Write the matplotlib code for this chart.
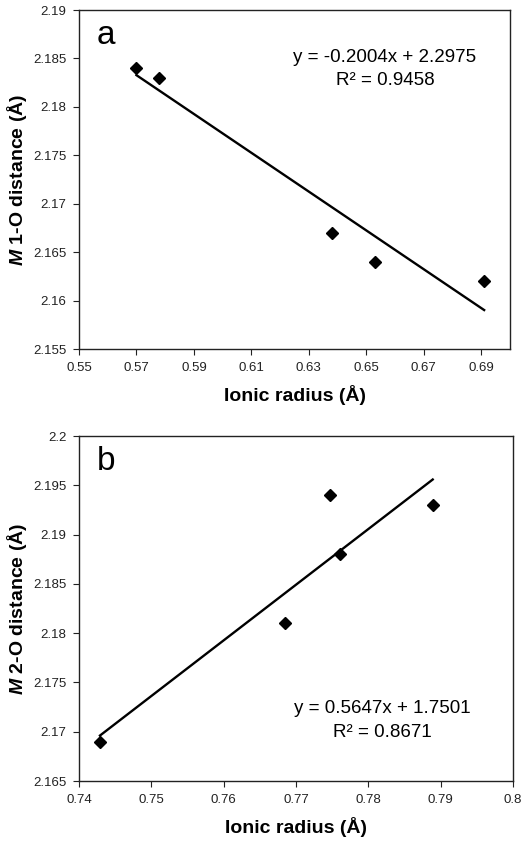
import numpy as np
import matplotlib
matplotlib.use("Agg")
import matplotlib.pyplot as plt

plt.rcParams['font.family'] = ['Liberation Sans', 'DejaVu Sans']
plt.rcParams['mathtext.fontset'] = 'custom'
plt.rcParams['mathtext.rm'] = 'Liberation Sans:bold'
plt.rcParams['mathtext.it'] = 'Liberation Sans:italic:bold'

# panel a: M1 site
radius_a = [0.570, 0.578, 0.638, 0.653, 0.691]
dist_a = [2.184, 2.183, 2.167, 2.164, 2.162]
slope_a, icept_a, r2_a = -0.2004, 2.2975, 0.9458
xticks_a = [0.55, 0.57, 0.59, 0.61, 0.63, 0.65, 0.67, 0.69]
xlabels_a = ['0.55', '0.57', '0.59', '0.61', '0.63', '0.65', '0.67', '0.69']
yticks_a = [2.155, 2.16, 2.165, 2.17, 2.175, 2.18, 2.185, 2.19]
ylabels_a = ['2.155', '2.16', '2.165', '2.17', '2.175', '2.18', '2.185', '2.19']

# panel b: M2 site
radius_b = [0.7429, 0.7685, 0.7747, 0.7761, 0.7889]
dist_b = [2.169, 2.181, 2.194, 2.188, 2.193]
slope_b, icept_b, r2_b = 0.5647, 1.7501, 0.8671
xticks_b = [0.74, 0.75, 0.76, 0.77, 0.78, 0.79, 0.8]
xlabels_b = ['0.74', '0.75', '0.76', '0.77', '0.78', '0.79', '0.8']
yticks_b = [2.165, 2.17, 2.175, 2.18, 2.185, 2.19, 2.195, 2.2]
ylabels_b = ['2.165', '2.17', '2.175', '2.18', '2.185', '2.19', '2.195', '2.2']

fig = plt.figure(figsize=(5.26, 8.41), dpi=100)
ax1 = fig.add_axes([0.1502, 0.585, 0.8194, 0.4031])
ax2 = fig.add_axes([0.1502, 0.0713, 0.8251, 0.4102])

panels = [
    (ax1, radius_a, dist_a, slope_a, icept_a, r2_a, xticks_a, xlabels_a,
     yticks_a, ylabels_a, (0.55, 0.70), (2.155, 2.19), 'a', '1',
     (0.71, 0.826)),
    (ax2, radius_b, dist_b, slope_b, icept_b, r2_b, xticks_b, xlabels_b,
     yticks_b, ylabels_b, (0.74, 0.80), (2.165, 2.20), 'b', '2',
     (0.70, 0.176)),
]

for (ax, xs, ys, m, b, r2, xt, xl, yt, yl, xlim, ylim, tag, site,
     eqpos) in panels:
    xfit = np.array([min(xs), max(xs)])
    ax.plot(xfit, m * xfit + b, color='black', lw=1.7, zorder=2)
    ax.plot(xs, ys, 'D', color='black', ms=6, zorder=3)
    ax.set_xlim(*xlim)
    ax.set_ylim(*ylim)
    ax.set_xticks(xt)
    ax.set_xticklabels(xl)
    ax.set_yticks(yt)
    ax.set_yticklabels(yl)
    ax.tick_params(direction='out', length=4, width=0.8, labelsize=9.5,
                   pad=5, colors='#222222')
    for sp in ax.spines.values():
        sp.set_linewidth(1.0)
        sp.set_color('#222222')
    ax.set_xlabel('Ionic radius (Å)', fontsize=14, fontweight='bold',
                  labelpad=8)
    ax.set_ylabel(r'$\mathit{M}$ ' + site + '-O distance (Å)', fontsize=14,
                  fontweight='bold')
    # place the y label just left of the tick labels
    w = ax.get_position().width * 526
    ax.yaxis.set_label_coords(-50.0 / w, 0.5)
    ax.text(0.04, 0.97, tag, transform=ax.transAxes, fontsize=24,
            ha='left', va='top')
    sign = '-' if m < 0 else ''
    eq = 'y = %s%.4fx + %.4f\nR² = %.4f' % (sign, abs(m), b, r2)
    ax.text(eqpos[0], eqpos[1], eq, transform=ax.transAxes, fontsize=13.5,
            ha='center', va='center', linespacing=1.5)

fig.savefig('out.png', dpi=100)
